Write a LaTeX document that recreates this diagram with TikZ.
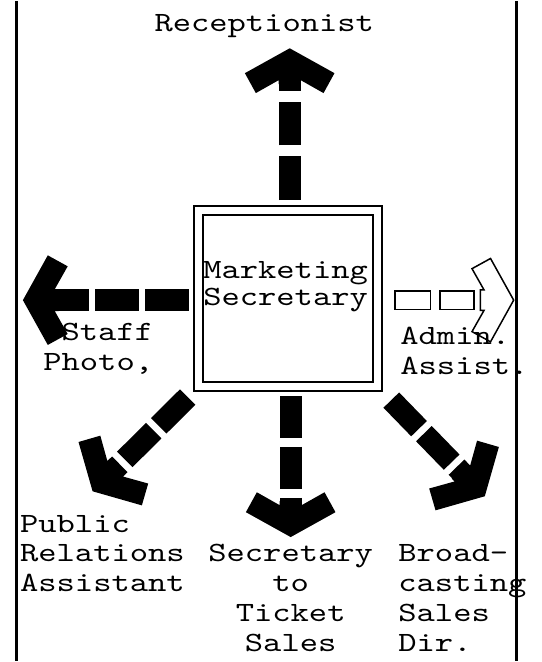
\documentclass[tikz,border=0pt]{standalone}
\usepackage{fontspec}
\newfontfamily\typewriter[FakeStretch=1.25]{lmmono10-regular.otf}

\tikzset{
    pics/blockhead/.style={code={
        \path[pic actions] (0,0) -- (-25,45) -- (-45,34) -- (-32,11) -- (-36,11)
            -- (-36,-11) -- (-32,-11) -- (-45,-34) -- (-25,-45) -- cycle;
    }},
}

\begin{document}
\begin{tikzpicture}[
    x=1pt, y=-1pt,
    % Node styles
    desk/.style={
        rectangle, draw, line width=2pt,
        double, double distance=7pt,
        minimum width=180pt, minimum height=177pt,
        inner sep=0pt,
    },
    job/.style={
        font=\typewriter\fontsize{28}{30}\selectfont,
        inner sep=0pt, align=left,
    },
    rule/.style={line width=3pt},
    shaft/.style={
        line width=22pt, dash pattern=#1,
    },
    hollow/.style={
        line width=20pt, dash pattern=on 37pt off 8pt,
    },
    hollow inner/.style={
        draw=white, line width=17pt, dash pattern=on 34pt off 11pt,
    },
]

% === Page and side rules ===
\path[fill=white] (0,0) rectangle (544,662);
\draw[rule] (17,0) -- (17,662);
\draw[rule] (519,0) -- (519,662);

% === Centre box ===
\node[desk] (mkt) at (289.5,298) {};

% === Arrow tips ===
\coordinate (upTip)    at (291,47);
\coordinate (downTip)  at (292,538);
\coordinate (leftTip)  at (23,300);
\coordinate (rightTip) at (516,300);
\coordinate (prTip)    at (93,492);
\coordinate (bcTip)    at (487,497);

% === Arrows ===
\draw[shaft={on 44pt off 11pt}, shorten <=9pt, shorten >=26pt]
    (mkt.north -| upTip) -- (upTip);
\pic[fill, rotate=90] at (upTip) {blockhead};

\draw[shaft={on 42pt off 9pt}, shorten <=9pt, shorten >=26pt]
    (mkt.south -| downTip) -- (downTip);
\pic[fill, rotate=-90] at (downTip) {blockhead};

\draw[shaft={on 44pt off 6pt}, shorten <=9pt, shorten >=26pt]
    (mkt.west |- leftTip) -- (leftTip);
\pic[fill, rotate=180] at (leftTip) {blockhead};

\draw[hollow, shorten <=15.5pt, shorten >=39pt]
    (mkt.east |- rightTip) -- (rightTip);
\draw[hollow inner, shorten <=17pt, shorten >=40.5pt]
    (mkt.east |- rightTip) -- (rightTip);
\pic[draw, fill=white, line width=1.5pt, scale=0.93] at (rightTip) {blockhead};

\draw[shaft={on 41pt off 7pt}, shorten <=14pt, shorten >=26pt]
    (mkt.south west) -- (prTip);
\pic[fill, rotate=-135] at (prTip) {blockhead};

\draw[shaft={on 40pt off 7pt}, shorten <=18pt, shorten >=26pt]
    (mkt.south east) -- (bcTip);
\pic[fill, rotate=-45] at (bcTip) {blockhead};

% === Texts (base = last line) ===
\node[job, anchor=base west, font=\typewriter\fontsize{28}{27}\selectfont]
    (mktTxt) at (204,305) {Marketing\\Secretary};
\node[job, anchor=base west] (recep) at (155,30) {Receptionist};
\node[job, anchor=base east, align=right] (staff) at (154,371) {Staff\\Photo,};
\node[job, anchor=base west] (admin) at (402,375) {Admin.\\Assist.};
\node[job, anchor=base west] (pubrel) at (20,593) {Public\\Relations\\Assistant};
\node[job, anchor=base, align=center] (ticket) at (292,653) {Secretary\\to\\Ticket\\Sales};
\node[job, anchor=base west] (bcast) at (400,653) {Broad-\\casting\\Sales\\Dir.};

\end{tikzpicture}
\end{document}
